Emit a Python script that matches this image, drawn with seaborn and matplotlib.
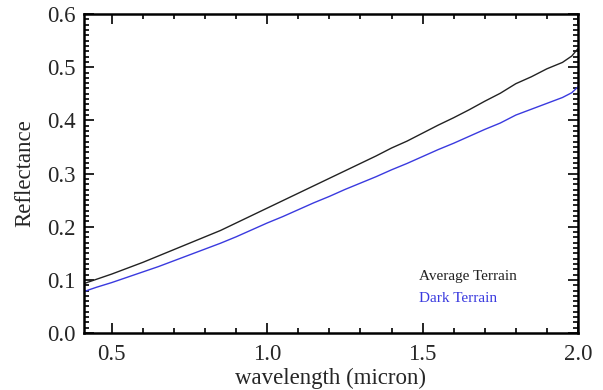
import numpy as np
import pandas as pd
import seaborn as sns
import matplotlib
matplotlib.use("Agg")
import matplotlib.pyplot as plt
from matplotlib.ticker import MultipleLocator

wavelength = [0.41, 0.45, 0.50, 0.55, 0.60, 0.65, 0.70, 0.75, 0.80, 0.85, 0.90, 0.95,
              1.00, 1.05, 1.10, 1.15, 1.20, 1.25, 1.30, 1.35, 1.40, 1.45, 1.50, 1.55,
              1.60, 1.65, 1.70, 1.75, 1.80, 1.85, 1.90, 1.95, 1.98, 2.00]
average_terrain = [0.093, 0.101, 0.111, 0.122, 0.133, 0.145, 0.157, 0.169, 0.181, 0.193, 0.207, 0.221,
                   0.235, 0.249, 0.263, 0.277, 0.291, 0.305, 0.319, 0.333, 0.348, 0.361, 0.376, 0.391,
                   0.405, 0.420, 0.436, 0.451, 0.469, 0.482, 0.497, 0.509, 0.521, 0.535]
dark_terrain = [0.078, 0.086, 0.095, 0.105, 0.115, 0.125, 0.136, 0.147, 0.158, 0.169, 0.181, 0.194,
                0.207, 0.219, 0.232, 0.245, 0.257, 0.270, 0.282, 0.294, 0.307, 0.319, 0.332, 0.345,
                0.357, 0.370, 0.383, 0.395, 0.410, 0.421, 0.432, 0.443, 0.452, 0.463]

df = pd.DataFrame({"wavelength": wavelength * 2,
                   "reflectance": average_terrain + dark_terrain,
                   "terrain": ["Average Terrain"] * len(wavelength) + ["Dark Terrain"] * len(wavelength)})

sns.set_theme(style="ticks")
plt.rcParams['font.family'] = ['Liberation Serif', 'DejaVu Serif']

fig = plt.figure(figsize=(6.03, 3.9), dpi=100)
ax = fig.add_axes([0.139, 0.146, 0.8195, 0.818])
sns.lineplot(data=df, x="wavelength", y="reflectance", hue="terrain",
             palette={"Average Terrain": "#222222", "Dark Terrain": "#3a3adf"},
             linewidth=1.0, legend=False, ax=ax)

ax.set_xlim(0.41, 2.0)
ax.set_ylim(0.0, 0.6)
ax.xaxis.set_major_locator(MultipleLocator(0.5))
ax.xaxis.set_minor_locator(MultipleLocator(0.1))
ax.yaxis.set_major_locator(MultipleLocator(0.1))
ax.yaxis.set_minor_locator(MultipleLocator(0.01))
ax.xaxis.set_major_formatter(matplotlib.ticker.FormatStrFormatter('%.1f'))
ax.yaxis.set_major_formatter(matplotlib.ticker.FormatStrFormatter('%.1f'))
ax.tick_params(which='both', direction='in', top=True, right=True, color='black', width=1.2)
ax.tick_params(which='major', length=7, labelsize=16.5)
ax.tick_params(axis='x', which='major', pad=8)
ax.tick_params(axis='y', which='major', pad=6)
ax.tick_params(which='minor', length=3.5)
for s in ax.spines.values():
    s.set_linewidth(1.8)
    s.set_color('black')
ax.set_xlabel("wavelength (micron)", fontsize=16.5, labelpad=2)
ax.set_ylabel("Reflectance", fontsize=16.5, labelpad=8)

ax.text(1.49, 0.099, "Average Terrain", fontsize=11, color="#222222", transform=ax.transData)
ax.text(1.49, 0.059, "Dark Terrain", fontsize=11, color="#3a3adf", transform=ax.transData)

fig.savefig("out.png", dpi=100)
